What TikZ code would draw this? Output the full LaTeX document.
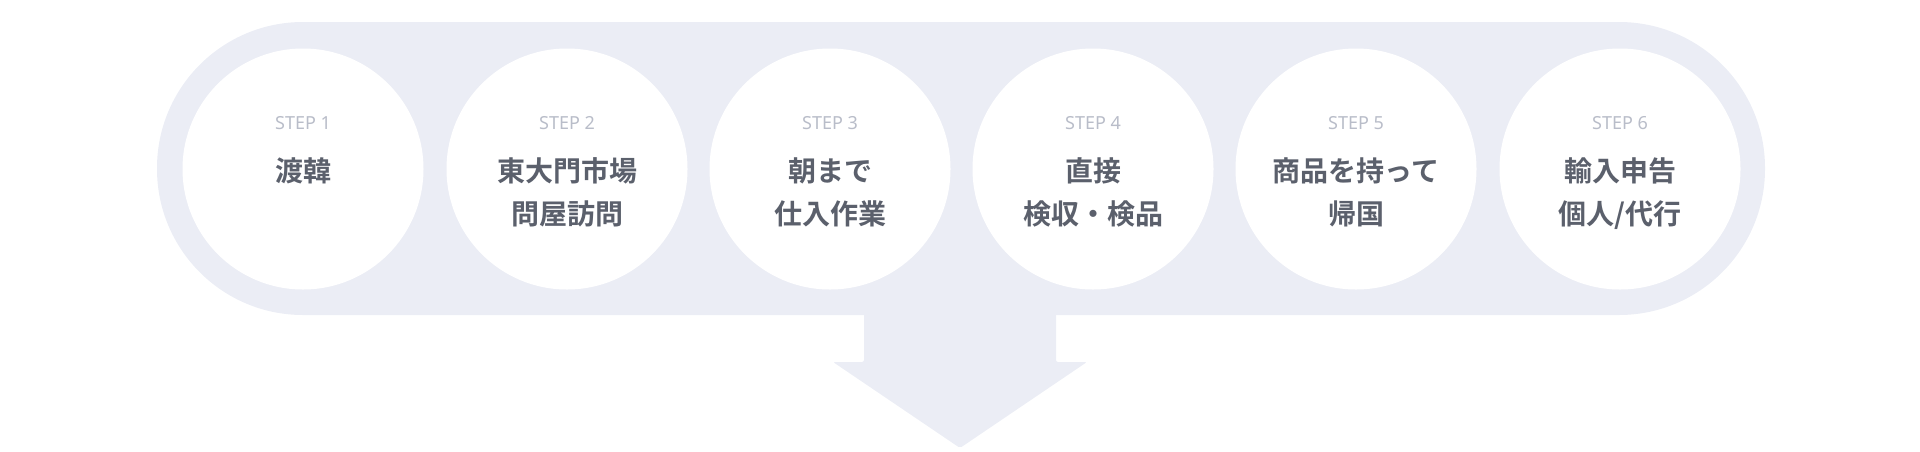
\documentclass[tikz,border=0pt]{standalone}
\usepackage{fontspec}
\newfontfamily\cjk{Noto Sans CJK JP}[BoldFont={* Bold}]
\newfontfamily\lat{Noto Sans}
\definecolor{band}{HTML}{EBEDF5}
\definecolor{steptxt}{HTML}{B9BDC9}
\definecolor{maintxt}{HTML}{5B606C}
\begin{document}
\begin{tikzpicture}[x=1pt,y=-1pt,
  disc/.style={circle,fill=white,minimum size=241pt,inner sep=0pt},
  steplabel/.style={font=\lat\bfseries\fontsize{18}{20}\selectfont,text=steptxt,inner sep=0pt},
  mainlabel/.style={font=\cjk\bfseries\fontsize{28}{43}\selectfont,text=maintxt,align=center,inner sep=0pt,anchor=north}]
\useasboundingbox (0,0) rectangle (1920,451);
\fill[band,rounded corners=146pt] (157,22) rectangle (1765,315);
\fill[band,rounded corners=2pt] (864,300) -- (864,362) -- (833,362) -- (960,448) -- (1087,362) -- (1056,362) -- (1056,300) -- cycle;
\foreach \i/\x/\t in {1/303/{渡韓},2/567/{東大門市場\\問屋訪問},3/830/{朝まで\\仕入作業},4/1093/{直接\\検収・検品},5/1356/{商品を持って\\帰国},6/1620/{輸入申告\\個人/代行}}{
  \node[disc] (c\i) at (\x,169) {};
  \node[steplabel] (s\i) at (\x,123) {STEP \i};
  \node[mainlabel] (m\i) at (\x,157) {\t};
}
\end{tikzpicture}
\end{document}
